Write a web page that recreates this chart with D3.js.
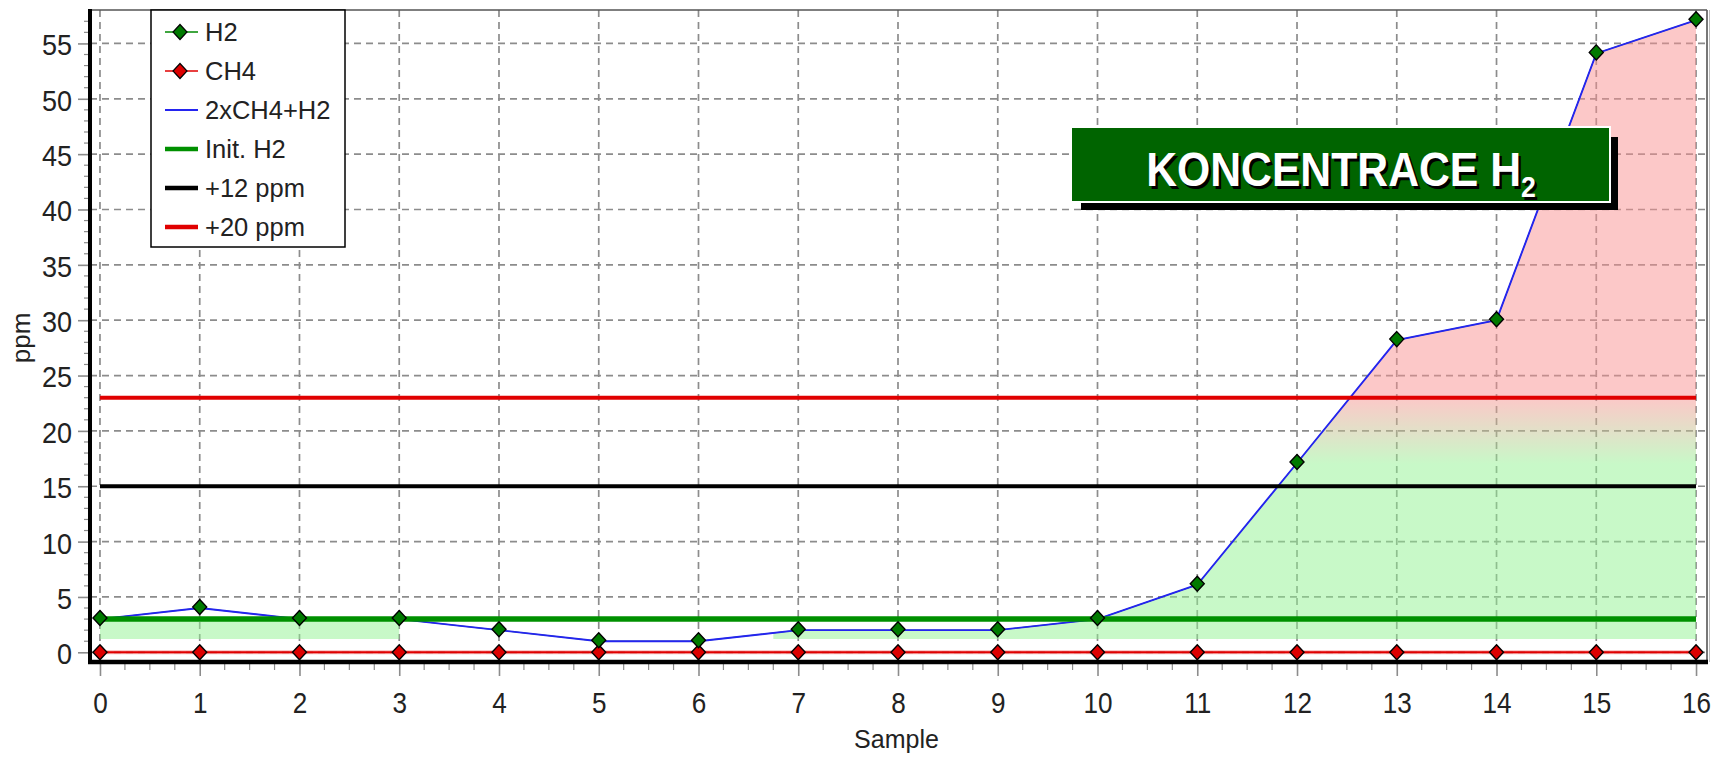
<!DOCTYPE html>
<html>
<head>
<meta charset="utf-8">
<script src="https://cdn.jsdelivr.net/npm/d3@7"></script>
<style>
  html, body { margin: 0; padding: 0; background: #fff; }
  svg { display: block; }
  text { font-family: "Liberation Sans", Arial, Helvetica, sans-serif; }
</style>
</head>
<body>
<svg id="chart" width="1719" height="758"></svg>
<script>
// ---------------- data ----------------
const samples = [0, 1, 2, 3, 4, 5, 6, 7, 8, 9, 10, 11, 12, 13, 14, 15, 16];
const h2Values = [3, 4, 3, 3, 2, 1, 1, 2, 2, 2, 3, 6.1, 17.1, 28.2, 30, 54.1, 57.1];
const ch4Values = [0, 0, 0, 0, 0, 0, 0, 0, 0, 0, 0, 0, 0, 0, 0, 0, 0];
const sumValues = h2Values.map((v, i) => 2 * ch4Values[i] + v); // 2xCH4+H2
const initH2 = 3;
const plus12 = 15;
const plus20 = 23;
const yTickValues = [0, 5, 10, 15, 20, 25, 30, 35, 40, 45, 50, 55];
const xTickValues = samples;
const legendLabels = ["H2", "CH4", "2xCH4+H2", "Init. H2", "+12 ppm", "+20 ppm"];
const fillBase = 1.2;              // bottom of shaded band (ppm)
const fillSpans = [[0, 3], [6.75, 16]]; // sample ranges where band is shown
const gradientFrom = 17, gradientTo = 23; // ppm range of green->red blend
const titleMain = "KONCENTRACE H", titleSub = "2";
const xTitle = "Sample", yTitle = "ppm";

// ---------------- layout ----------------
const svg = d3.select("#chart");
const L = 90, R = 1707, T = 10, B = 662;
const x = d3.scaleLinear().domain([-0.1, 16.11]).range([L, R]);
const y = d3.scaleLinear().domain([-0.876, 58.02]).range([B, T]);

const defs = svg.append("defs");
const grad = defs.append("linearGradient").attr("id", "fillGrad")
  .attr("gradientUnits", "userSpaceOnUse")
  .attr("x1", 0).attr("x2", 0).attr("y1", y(gradientFrom)).attr("y2", y(gradientTo));
grad.append("stop").attr("offset", 0).attr("stop-color", "rgb(145,242,145)").attr("stop-opacity", 0.5);
grad.append("stop").attr("offset", 1).attr("stop-color", "rgb(249,145,145)").attr("stop-opacity", 0.5);

fillSpans.forEach((s, i) => {
  defs.append("clipPath").attr("id", "span" + i).append("rect")
    .attr("x", x(s[0])).attr("width", x(s[1]) - x(s[0]))
    .attr("y", T).attr("height", B - T);
});

// ---------------- grid ----------------
const grid = svg.append("g");
grid.selectAll(".vg").data(xTickValues).join("line")
  .attr("x1", d => x(d)).attr("x2", d => x(d)).attr("y1", T).attr("y2", B)
  .attr("stroke", "#8c8c8c").attr("stroke-width", 1.7).attr("stroke-dasharray", "7,5");
grid.selectAll(".hg").data(yTickValues).join("line")
  .attr("x1", L).attr("x2", R).attr("y1", d => y(d)).attr("y2", d => y(d))
  .attr("stroke", "#8c8c8c").attr("stroke-width", 1.7).attr("stroke-dasharray", "7,5");

// ---------------- shaded band ----------------
const pts = samples.map((s, i) => ({ s, v: sumValues[i] }));
fillSpans.forEach((span, i) => {
  const cap = i === 0 ? initH2 : Infinity;
  const area = d3.area().x(d => x(d.s)).y0(y(fillBase)).y1(d => y(Math.max(fillBase, Math.min(d.v, cap))));
  svg.append("path").datum(pts).attr("d", area)
    .attr("fill", "url(#fillGrad)").attr("clip-path", "url(#span" + i + ")");
});

// ---------------- series lines ----------------
const line = d3.line().x(d => x(d.s)).y(d => y(d.v));
svg.append("path").datum(samples.map((s, i) => ({ s, v: h2Values[i] }))).attr("d", line)
  .attr("fill", "none").attr("stroke", "#008800").attr("stroke-width", 1);
svg.append("path").datum(pts).attr("d", line)
  .attr("fill", "none").attr("stroke", "#2424f0").attr("stroke-width", 1.9);

// reference lines
const refLines = [
  { v: initH2, color: "#009000", w: 5.5 },
  { v: plus12, color: "#000000", w: 4 },
  { v: plus20, color: "#e00000", w: 4 }
];
svg.selectAll(".ref").data(refLines).join("line")
  .attr("x1", x(0)).attr("x2", x(16)).attr("y1", d => y(d.v)).attr("y2", d => y(d.v))
  .attr("stroke", d => d.color).attr("stroke-width", d => d.w);

// CH4 line
svg.append("path").datum(samples.map((s, i) => ({ s, v: ch4Values[i] }))).attr("d", line)
  .attr("fill", "none").attr("stroke", "#f07070").attr("stroke-width", 4).attr("opacity", 0.5);
svg.append("path").datum(samples.map((s, i) => ({ s, v: ch4Values[i] }))).attr("d", line)
  .attr("fill", "none").attr("stroke", "#e00000").attr("stroke-width", 2);

// markers
const diamond = "M0,-7.5L7,0L0,7.5L-7,0Z";
svg.selectAll(".ch4m").data(samples).join("path")
  .attr("d", diamond).attr("transform", (d, i) => `translate(${x(d)},${y(ch4Values[i])})`)
  .attr("fill", "#dd0000").attr("stroke", "#000").attr("stroke-width", 1.4);
svg.selectAll(".h2m").data(samples).join("path")
  .attr("d", diamond).attr("transform", (d, i) => `translate(${x(d)},${y(h2Values[i]) - 1})`)
  .attr("fill", "#007a00").attr("stroke", "#000").attr("stroke-width", 1.4);

// ---------------- axes ----------------
const yAxis = svg.append("g").attr("transform", `translate(${L},0)`)
  .call(d3.axisLeft(y).tickValues(yTickValues).tickSize(12).tickPadding(6).tickFormat(d3.format("d")));
yAxis.select(".domain").remove();
yAxis.selectAll(".tick line").attr("stroke", "#8c8c8c").attr("stroke-width", 1.6);
yAxis.selectAll(".tick text").attr("font-size", 30).attr("fill", "#222")
  .attr("x", -18 / 0.9).attr("dy", "0.38em").attr("transform", "scale(0.9,1)")
  .style("font-family", '"Liberation Sans", Arial, sans-serif');
// minor y ticks
svg.append("g").selectAll("line").data(d3.range(0, 58, 1).filter(v => v % 5 !== 0)).join("line")
  .attr("x1", L - 6).attr("x2", L).attr("y1", d => y(d)).attr("y2", d => y(d))
  .attr("stroke", "#8c8c8c").attr("stroke-width", 1.2);

const xAxis = svg.append("g").attr("transform", `translate(0,${B})`)
  .call(d3.axisBottom(x).tickValues(xTickValues).tickSize(14).tickPadding(16).tickFormat(d3.format("d")));
xAxis.select(".domain").remove();
xAxis.selectAll(".tick line").attr("stroke", "#8c8c8c").attr("stroke-width", 1.6);
xAxis.selectAll(".tick text").attr("font-size", 30).attr("fill", "#222")
  .attr("transform", "scale(0.87,1)")
  .style("font-family", '"Liberation Sans", Arial, sans-serif');
// minor x ticks
const minorX = d3.range(0, 16.01, 0.25).filter(v => Math.abs(v - Math.round(v)) > 0.01);
svg.append("g").selectAll("line").data(minorX).join("line")
  .attr("x1", d => x(d)).attr("x2", d => x(d)).attr("y1", B).attr("y2", B + 8)
  .attr("stroke", "#8c8c8c").attr("stroke-width", 1.2);

// frame
svg.append("line").attr("x1", L).attr("x2", R).attr("y1", T).attr("y2", T).attr("stroke", "#555").attr("stroke-width", 1.6);
svg.append("line").attr("x1", R).attr("x2", R).attr("y1", T).attr("y2", B).attr("stroke", "#555").attr("stroke-width", 1.6);
svg.append("line").attr("x1", R + 2.5).attr("x2", R + 2.5).attr("y1", T).attr("y2", B).attr("stroke", "#bbb").attr("stroke-width", 1);
svg.append("line").attr("x1", L).attr("x2", L).attr("y1", T - 1).attr("y2", B + 2).attr("stroke", "#000").attr("stroke-width", 4);
svg.append("line").attr("x1", L - 2).attr("x2", R + 1).attr("y1", B).attr("y2", B).attr("stroke", "#000").attr("stroke-width", 4.5);

// axis titles
svg.append("text").attr("x", (L + R) / 2 - 2).attr("y", 748).attr("text-anchor", "middle")
  .attr("font-size", 25).attr("fill", "#222").text(xTitle);
svg.append("text").attr("transform", `translate(30,338) rotate(-90)`).attr("text-anchor", "middle")
  .attr("font-size", 26).attr("fill", "#222").text(yTitle);

// ---------------- legend ----------------
const lg = svg.append("g");
lg.append("rect").attr("x", 151).attr("y", 10).attr("width", 194).attr("height", 237)
  .attr("fill", "#fff").attr("stroke", "#000").attr("stroke-width", 1.5);
const legendStyle = [
  { color: "#008800", w: 1.5, marker: "#007a00" },
  { color: "#e00000", w: 1.5, marker: "#dd0000" },
  { color: "#2424f0", w: 1.9, marker: null },
  { color: "#009000", w: 4.5, marker: null },
  { color: "#000000", w: 4.5, marker: null },
  { color: "#e00000", w: 4.5, marker: null }
];
legendLabels.forEach((lab, i) => {
  const cy = 32 + i * 39;
  const st = legendStyle[i];
  lg.append("line").attr("x1", 165).attr("x2", 198).attr("y1", cy).attr("y2", cy)
    .attr("stroke", st.color).attr("stroke-width", st.w);
  if (st.marker) lg.append("path").attr("d", diamond).attr("transform", `translate(180,${cy})`)
    .attr("fill", st.marker).attr("stroke", "#000").attr("stroke-width", 1.2);
  lg.append("text").attr("x", 205).attr("y", cy).attr("dy", "0.36em")
    .attr("font-size", 25.5).attr("fill", "#222").text(lab);
});

// ---------------- title box ----------------
const tb = svg.append("g");
tb.append("rect").attr("x", 1081).attr("y", 137).attr("width", 537).attr("height", 73).attr("fill", "#000");
tb.append("rect").attr("x", 1070).attr("y", 126).attr("width", 541).attr("height", 77).attr("fill", "#fff");
tb.append("rect").attr("x", 1072).attr("y", 128).attr("width", 537).attr("height", 73).attr("fill", "#006400");
function titleText(dx, dy, color) {
  const t = tb.append("text").attr("transform", `translate(${1341 + dx},${186 + dy}) scale(0.89,1)`)
    .attr("text-anchor", "middle").attr("font-weight", "bold").attr("font-size", 48).attr("fill", color);
  t.append("tspan").text(titleMain);
  t.append("tspan").attr("font-size", 30).attr("dy", 11).text(titleSub);
}
titleText(2.5, 2.5, "#000");
titleText(0, 0, "#fff");
</script>
</body>
</html>
